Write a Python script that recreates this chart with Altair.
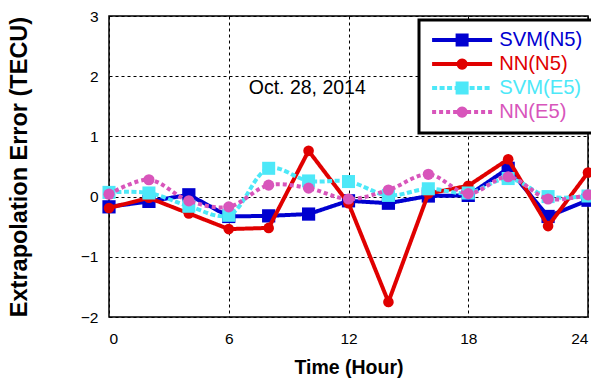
import altair as alt
import pandas as pd

# ---------------- data ----------------
hours = [0, 2, 4, 6, 8, 10, 12, 14, 16, 18, 20, 22, 24]
svm_n5 = [-0.17, -0.08, 0.03, -0.33, -0.32, -0.29, -0.07, -0.11, 0.01, 0.02, 0.47, -0.33, -0.06]
nn_n5 = [-0.19, -0.02, -0.28, -0.54, -0.52, 0.76, -0.11, -1.75, 0.05, 0.18, 0.62, -0.49, 0.40]
svm_e5 = [0.07, 0.06, -0.16, -0.31, 0.47, 0.26, 0.25, 0.02, 0.13, 0.06, 0.30, 0.00, 0.01]
nn_e5 = [0.04, 0.28, -0.07, -0.17, 0.19, 0.14, -0.04, 0.11, 0.37, 0.05, 0.33, -0.04, 0.03]

series_names = ["SVM(N5)", "NN(N5)", "SVM(E5)", "NN(E5)"]
series_values = [svm_n5, nn_n5, svm_e5, nn_e5]
series_colors = ["#0000d0", "#e00000", "#4de8f8", "#d855bb"]

x_ticks = [0, 6, 12, 18, 24]
y_ticks = [-2, -1, 0, 1, 2, 3]

note_text = ["Oct. 28, 2014"]
note_x = [7.0]
note_y = [1.8]

# ---------------- styles ----------------
styles = {
    "SVM(N5)": dict(shape="square", size=175, dash=[1, 0], interp="linear", marker="square"),
    "NN(N5)": dict(shape="circle", size=113, dash=[1, 0], interp="linear", marker="circle"),
    "SVM(E5)": dict(shape="square", size=170, dash=[5, 2.5], interp="catmull-rom", marker="square"),
    "NN(E5)": dict(shape="circle", size=125, dash=[4, 3], interp="catmull-rom", marker="circle"),
}

FONT = "Liberation Sans"
color_scale = alt.Scale(domain=series_names, range=series_colors)

# legend symbol paths (unit = 6 px because symbolSize = 144)
U = 6.0
SHIFT = 23.0  # sample centre relative to the symbol's own centre


def fmt(v):
    return f"{v / U:.3f}"


def legend_path(marker, dash):
    parts = []
    half_len, half_th = 30.0, 2.0
    if dash[1] == 0:
        segs = [(-half_len, half_len)]
    else:
        segs = []
        x = -half_len
        while x < half_len:
            segs.append((x, min(x + dash[0], half_len)))
            x += dash[0] + dash[1]
    for a, b in segs:
        parts.append(
            f"M{fmt(a + SHIFT)},{fmt(-half_th)}H{fmt(b + SHIFT)}V{fmt(half_th)}H{fmt(a + SHIFT)}Z"
        )
    if marker == "square":
        h = 6.5
        parts.append(f"M{fmt(SHIFT - h)},{fmt(-h)}H{fmt(SHIFT + h)}V{fmt(h)}H{fmt(SHIFT - h)}Z")
    else:
        r = 5.5
        parts.append(
            f"M{fmt(SHIFT + r)},0A{fmt(r)},{fmt(r)} 0 1 1 {fmt(SHIFT - r)},0"
            f"A{fmt(r)},{fmt(r)} 0 1 1 {fmt(SHIFT + r)},0Z"
        )
    return " ".join(parts)


legend_shapes = [legend_path(styles[n]["marker"], styles[n]["dash"]) for n in series_names]

rows = []
for name, vals in zip(series_names, series_values):
    for h, v in zip(hours, vals):
        rows.append({"hour": h, "value": v, "series": name})
df = pd.DataFrame(rows)

x_enc = alt.X(
    "hour:Q",
    scale=alt.Scale(domain=[0, 24], nice=False, zero=False),
    axis=alt.Axis(values=x_ticks, title="Time (Hour)", format="d"),
)
y_enc = alt.Y(
    "value:Q",
    scale=alt.Scale(domain=[-2, 3], nice=False, zero=False),
    axis=alt.Axis(values=y_ticks, title="Extrapolation Error (TECU)", format="d"),
)

layers = []
for name in series_names:
    st = styles[name]
    sub = alt.Chart(df).transform_filter(alt.datum.series == name)
    line = sub.mark_line(
        strokeWidth=4, strokeDash=st["dash"], interpolate=st["interp"], clip=True
    ).encode(x=x_enc, y=y_enc, color=alt.Color("series:N", scale=color_scale, legend=None))
    pts = sub.mark_point(
        shape=st["shape"], filled=True, size=st["size"], opacity=1, clip=False
    ).encode(x=x_enc, y=y_enc, color=alt.Color("series:N", scale=color_scale, legend=None))
    layers += [line, pts]

LEG_X, LEG_Y = 310, 4
LEG_W, LEG_H = 168, 110  # approximate box size, used for the drop shadow only

leg = alt.Legend(
    title=None,
    orient="none",
    legendX=LEG_X,
    legendY=LEG_Y,
    labelFont=FONT,
    labelFontSize=20.2,
    labelOffset=50,
    labelColor=alt.ExprRef("scale('color', datum.value)"),
    symbolSize=144,
    symbolOpacity=1,
    symbolStrokeWidth=0,
    rowPadding=3,
    padding=10,
    strokeColor="black",
    fillColor="white",
)

legend_layer = (
    alt.Chart(pd.DataFrame({"series": series_names}))
    .mark_point(filled=True, opacity=0)
    .encode(
        color=alt.Color("series:N", scale=color_scale, legend=leg),
        shape=alt.Shape(
            "series:N",
            scale=alt.Scale(domain=series_names, range=legend_shapes),
            legend=leg,
        ),
    )
)

# drop shadow behind the legend box
shadow = (
    alt.Chart(pd.DataFrame({"k": [0]}))
    .mark_rect(color="black")
    .encode(
        x=alt.value(LEG_X + 4),
        x2=alt.value(LEG_X + LEG_W + 1),
        y=alt.value(LEG_Y + 4),
        y2=alt.value(LEG_Y + LEG_H + 1),
    )
)

note = (
    alt.Chart(pd.DataFrame({"x": note_x, "y": note_y, "t": note_text}))
    .mark_text(align="left", baseline="middle", font=FONT, fontSize=19.5, color="black")
    .encode(x=alt.X("x:Q"), y=alt.Y("y:Q"), text="t:N")
)

chart = (
    alt.layer(*layers, note, shadow, legend_layer)
    .resolve_legend(color="independent", shape="independent")
    .properties(
        width=479,
        height=301,
        autosize=alt.AutoSizeParams(type="none"),
        padding={"left": 109, "top": 16, "right": 3, "bottom": 61},
        background="white",
    )
    .configure_view(stroke="black", strokeWidth=1.5)
    .configure_axis(
        labelFont=FONT,
        labelFontSize=15.5,
        labelColor="black",
        titleFont=FONT,
        titleColor="black",
        titleFontWeight="bold",
        domain=False,
        ticks=False,
        grid=True,
        gridColor="black",
        gridDash=[3, 3],
        gridWidth=1,
        gridOpacity=1,
    )
    .configure_axisX(labelPadding=14, titleFontSize=19.5, titlePadding=12)
    .configure_axisY(labelPadding=11, titleFontSize=23.5, titlePadding=49)
    .configure_legend(strokeWidth=3)
)

chart.save("out.html", embed_options={"renderer": "svg", "actions": False})
